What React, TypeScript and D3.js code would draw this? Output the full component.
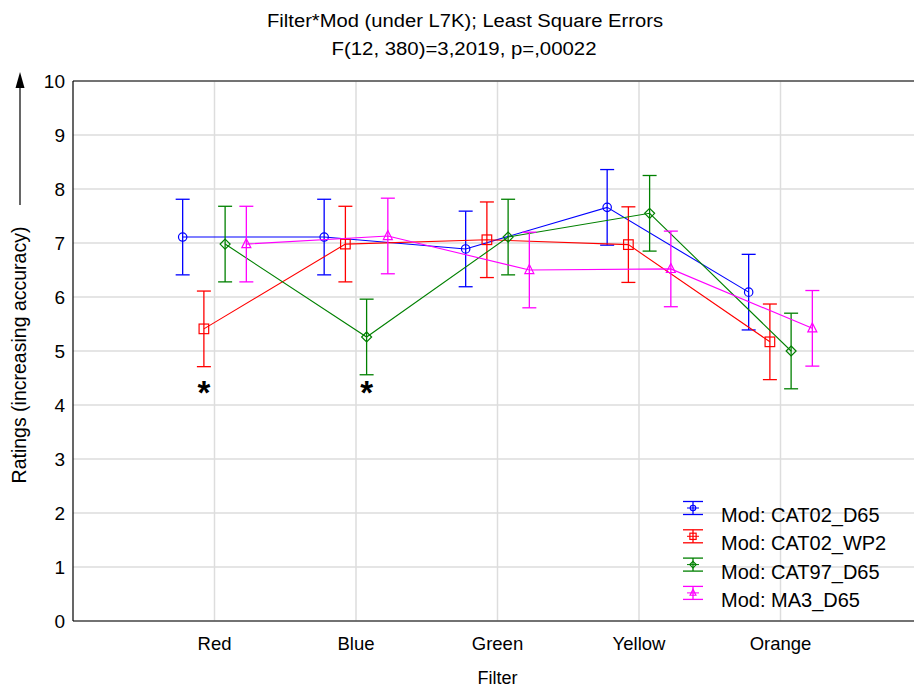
import React from "react";
import * as d3 from "d3";

const categories = ["Red", "Blue", "Green", "Yellow", "Orange"];
const seriesNames = ["Mod: CAT02_D65", "Mod: CAT02_WP2", "Mod: CAT97_D65", "Mod: MA3_D65"];
const cat02D65 = [7.11, 7.11, 6.89, 7.66, 6.09];
const cat02WP2 = [5.41, 6.98, 7.06, 6.97, 5.17];
const cat97D65 = [6.98, 5.26, 7.11, 7.55, 5.0];
const ma3D65 = [6.98, 7.13, 6.5, 6.52, 5.42];
const errCat02D65 = [0.7, 0.7, 0.7, 0.7, 0.7];
const errCat02WP2 = [0.7, 0.7, 0.7, 0.7, 0.7];
const errCat97D65 = [0.7, 0.7, 0.7, 0.7, 0.7];
const errMa3D65 = [0.7, 0.7, 0.7, 0.7, 0.7];
const yTicks = [0, 1, 2, 3, 4, 5, 6, 7, 8, 9, 10];
const asterisks = [
  { cat: "Red", series: 1, value: 4.35 },
  { cat: "Blue", series: 2, value: 4.35 },
];

const seriesValues = [cat02D65, cat02WP2, cat97D65, ma3D65];
const seriesErrors = [errCat02D65, errCat02WP2, errCat97D65, errMa3D65];
const colors = ["#0000ff", "#ff0000", "#008000", "#ff00ff"];
const offsets = [-0.225, -0.075, 0.075, 0.225];
const markers = ["circle", "square", "diamond", "triangle"];

const W = 914;
const H = 688;
const left = 73;
const top = 81;
const bottom = 621;
const FONT = "'Liberation Sans', Arial, sans-serif";

function Marker({ type, x, y, color, s = 1 }: { type: string; x: number; y: number; color: string; s?: number }) {
  const sw = 1.2;
  if (type === "circle") return <circle cx={x} cy={y} r={4.2 * s} fill="none" stroke={color} strokeWidth={sw} />;
  if (type === "square")
    return <rect x={x - 4.8 * s} y={y - 4.8 * s} width={9.6 * s} height={9.6 * s} fill="none" stroke={color} strokeWidth={sw} />;
  if (type === "diamond") {
    const r = 5 * s;
    return <path d={`M${x},${y - r}L${x + r},${y}L${x},${y + r}L${x - r},${y}Z`} fill="none" stroke={color} strokeWidth={sw} />;
  }
  const h = 9 * s;
  const w = 4.5 * s;
  return <path d={`M${x},${y - h * 0.6}L${x + w},${y + h * 0.4}L${x - w},${y + h * 0.4}Z`} fill="none" stroke={color} strokeWidth={sw} />;
}

export default function App() {
  const x = d3.scaleLinear().domain([0, 6]).range([left, 922]);
  const y = d3.scaleLinear().domain([0, 10]).range([bottom, top]);
  const cx = (ci: number, si: number) => x(ci + 1 + offsets[si]);
  const cap = 7;

  return (
    <svg width={W} height={H} style={{ position: "absolute", left: 0, top: 0, background: "#fff" }} fontFamily={FONT}>
      <rect width={W} height={H} fill="#fff" />
      {/* grid */}
      {yTicks.map((t) => (
        <line key={"gy" + t} x1={left} x2={W} y1={y(t)} y2={y(t)} stroke="#dddddd" strokeWidth={1.5} />
      ))}
      {categories.map((c, i) => (
        <line key={"gx" + c} x1={x(i + 1)} x2={x(i + 1)} y1={top} y2={bottom} stroke="#dddddd" strokeWidth={1.5} />
      ))}
      {/* frame */}
      <line x1={left} x2={W} y1={top} y2={top} stroke="#000" strokeWidth={1} />
      <line x1={left} x2={W} y1={bottom} y2={bottom} stroke="#000" strokeWidth={1.2} />
      <line x1={left} x2={left} y1={top} y2={bottom} stroke="#000" strokeWidth={1.2} />
      {/* y ticks */}
      {yTicks.map((t) => (
        <text key={"yt" + t} x={65} y={y(t) + 7} textAnchor="end" fontSize={19} fill="#000">
          {t}
        </text>
      ))}
      {/* x ticks */}
      {categories.map((c, i) => (
        <text key={"xt" + c} x={x(i + 1)} y={650} textAnchor="middle" fontSize={18.5} fill="#000">
          {c}
        </text>
      ))}
      <text x={x(3)} y={684} textAnchor="middle" fontSize={18} fill="#000">
        Filter
      </text>
      {/* y label + arrow */}
      <text transform={`translate(26,355) rotate(-90)`} textAnchor="middle" fontSize={19.5} fill="#000">
        Ratings (increasing accuracy)
      </text>
      <line x1={20} x2={20} y1={205} y2={84} stroke="#000" strokeWidth={1.2} />
      <path d="M20,72L24.5,88L15.5,88Z" fill="#000" />
      {/* title */}
      <text x={465} y={27} textAnchor="middle" fontSize={18} textLength={396} lengthAdjust="spacingAndGlyphs" fill="#000">
        Filter*Mod (under L7K); Least Square Errors
      </text>
      <text x={464} y={55} textAnchor="middle" fontSize={18} textLength={265} lengthAdjust="spacingAndGlyphs" fill="#000">
        F(12, 380)=3,2019, p=,00022
      </text>
      {/* series */}
      {seriesValues.map((vals, si) => {
        const line = d3
          .line<number>()
          .x((_, ci) => cx(ci, si))
          .y((v) => y(v));
        return (
          <g key={"s" + si}>
            <path d={line(vals) || ""} fill="none" stroke={colors[si]} strokeWidth={1.1} />
            {vals.map((v, ci) => {
              const e = seriesErrors[si][ci];
              const px = cx(ci, si);
              return (
                <g key={ci}>
                  <line x1={px} x2={px} y1={y(v + e)} y2={y(v - e)} stroke={colors[si]} strokeWidth={1.3} />
                  <line x1={px - cap} x2={px + cap} y1={y(v + e)} y2={y(v + e)} stroke={colors[si]} strokeWidth={1.3} />
                  <line x1={px - cap} x2={px + cap} y1={y(v - e)} y2={y(v - e)} stroke={colors[si]} strokeWidth={1.3} />
                  <Marker type={markers[si]} x={px} y={y(v)} color={colors[si]} />
                </g>
              );
            })}
          </g>
        );
      })}
      {/* asterisks */}
      {asterisks.map((a, i) => {
        const ci = categories.indexOf(a.cat);
        return (
          <text key={"ast" + i} x={cx(ci, a.series)} y={y(a.value) + 18} textAnchor="middle" fontSize={33} fontWeight="bold" fill="#000">
            *
          </text>
        );
      })}
      {/* legend */}
      {seriesNames.map((n, si) => {
        const ly = 508 + si * 28.3;
        const lx = 693;
        return (
          <g key={"lg" + si}>
            <line x1={lx - 10} x2={lx + 10} y1={ly - 6.5} y2={ly - 6.5} stroke={colors[si]} strokeWidth={1.3} />
            <line x1={lx - 10} x2={lx + 10} y1={ly + 6.5} y2={ly + 6.5} stroke={colors[si]} strokeWidth={1.3} />
            <line x1={lx} x2={lx} y1={ly - 6.5} y2={ly + 6.5} stroke={colors[si]} strokeWidth={1.3} />
            <line x1={lx - 6} x2={lx + 6} y1={ly} y2={ly} stroke={colors[si]} strokeWidth={1} />
            <Marker type={markers[si]} x={lx} y={ly} color={colors[si]} s={0.65} />
            <text x={721} y={ly + 14} fontSize={20} fill="#000">
              {n}
            </text>
          </g>
        );
      })}
    </svg>
  );
}
